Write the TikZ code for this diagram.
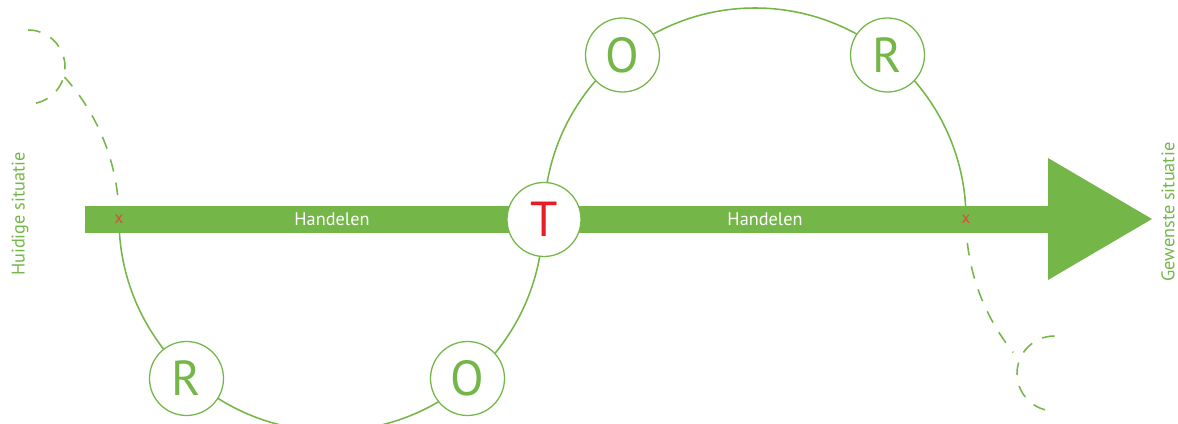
\documentclass[tikz,border=0pt]{standalone}
\usepackage{fontspec}
\setmainfont{PT Sans}
\definecolor{groen}{RGB}{116,182,72}
\definecolor{rood}{RGB}{232,28,36}
\definecolor{kruis}{RGB}{226,72,60}
\tikzset{
	stap/.style={circle, draw=groen, line width=0.9pt, fill=white, minimum size=1.85cm, inner sep=0pt, text=groen, font=\fontsize{35}{35}\selectfont},
	lus/.style={draw=groen, line width=1.1pt},
	stippel/.style={draw=groen, line width=1.1pt, dash pattern=on 9pt off 8pt},
	kruisje/.style={text=kruis, inner sep=0pt, font=\fontsize{12}{12}\selectfont},
	situatie/.style={text=groen, rotate=90, font=\fontsize{13}{13}\selectfont}
}

\begin{document}
\begin{tikzpicture}
		%%%%% START %%%%%
		
		\useasboundingbox (0,0) rectangle (29.45,10.6);
		\clip (0,0) rectangle (29.45,10.6);
		
		\draw[lus] (2.975,5.125) arc (180:360:5.3);
		\draw[lus] (13.6,5.125) arc (180:0:5.275);
		
		\draw[stippel] (2.975,5.125) arc (0:42:5.3);
		\draw[stippel] (0.7,9.85) arc (90:-90:0.925);
		\draw[stippel] (24.15,5.125) arc (180:219:5.3);
		\draw[stippel] (26.3625,2.2) arc (90:270:0.9375);
		
		\fill[groen] (2.125,4.775) rectangle (26.2,5.45);
		\fill[groen] (26.2,6.65) -- (28.8,5.125) -- (26.2,3.6) -- cycle;
		
		\node[text=white, font=\fontsize{13}{13}\selectfont] (handelen1) at (8.3,5.1125) {Handelen};
		\node[text=white, font=\fontsize{13}{13}\selectfont] (handelen2) at (19.125,5.1125) {Handelen};
		
		\node[kruisje] (kruis1) at (2.975,5.13) {x};
		\node[kruisje] (kruis2) at (24.15,5.13) {x};
		
		\node[stap, text=rood] (T) at (13.6,5.1125) {T};
		\node[stap] (R1) at (4.6625,1.1375) {R};
		\node[stap] (O1) at (11.6875,1.1375) {O};
		\node[stap] (O2) at (15.5625,9.225) {O};
		\node[stap] (R2) at (22.1875,9.225) {R};
		
		\node[situatie] (huidig) at (0.5,5.25) {Huidige situatie};
		\node[situatie] (gewenst) at (29.2,5.3) {Gewenste situatie};
		
		%%%%% END %%%%%
	\end{tikzpicture}
\end{document}
